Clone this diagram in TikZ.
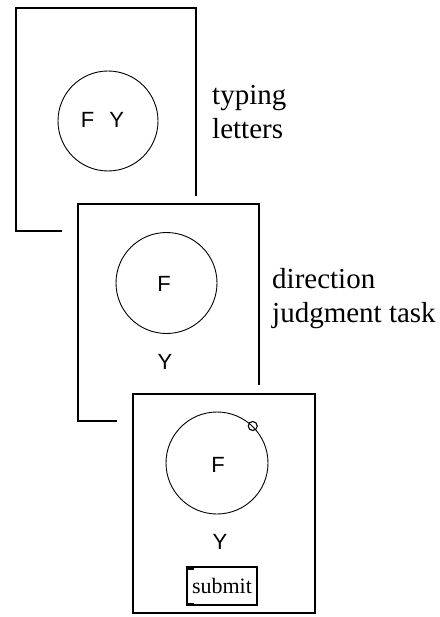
\documentclass[tikz,border=0pt]{standalone}
\usepackage{fontspec}
\setmainfont{Liberation Serif}
\newfontfamily\arialfont{Liberation Sans}
\begin{document}
\begin{tikzpicture}[x=1pt,y=-1pt,
  frame/.style={line width=1.7pt,line cap=rect},
  ring/.style={draw,circle,line width=0.9pt,inner sep=0pt},
  sanslbl/.style={font=\arialfont\fontsize{22}{26}\selectfont,inner sep=0pt},
  caption/.style={font=\fontsize{29}{34}\selectfont,align=left,anchor=north west,inner sep=0pt},
  btn/.style={draw,line width=1.2pt,minimum width=70pt,minimum height=38pt,inner sep=0pt,font=\fontsize{22}{24}\selectfont}]
\useasboundingbox (0,0) rectangle (439,617);
\fill[white] (0,0) rectangle (439,617);
% frame 1
\draw[frame] (61,231) -- (16,231) -- (16,8) -- (196,8) -- (196,195);
% frame 2
\draw[frame] (116,421) -- (78,421) -- (78,204) -- (259,204) -- (259,384);
% frame 3
\draw[frame] (133,394) rectangle (315,613);
% circles
\node[ring,minimum size=100pt] (c1) at (108,121) {};
\node[ring,minimum size=101pt] (c2) at (166.5,283) {};
\node[ring,minimum size=102pt] (c3) at (217,463) {};
\node[ring,minimum size=9pt,line width=1.1pt] (dot) at (c3.46) {};
% letters
\node[sanslbl] (fy) at (102.5,120) {F\hspace{15pt}Y};
\node[sanslbl] (f2) at (164,284) {F};
\node[sanslbl] (y2) at (165,362) {Y};
\node[sanslbl] (f3) at (218,465) {F};
\node[sanslbl] (y3) at (220,542) {Y};
% submit button
\node[btn] (sub) at (222,586) {submit};
\fill (187,566.5) rectangle (194,569.5);
\fill (187,602.5) rectangle (194,605.5);
% captions
\node[caption] (cap1) at (212,85) {typing\\letters};
\node[caption] (cap2) at (272,268) {direction\\judgment task};
\end{tikzpicture}
\end{document}
